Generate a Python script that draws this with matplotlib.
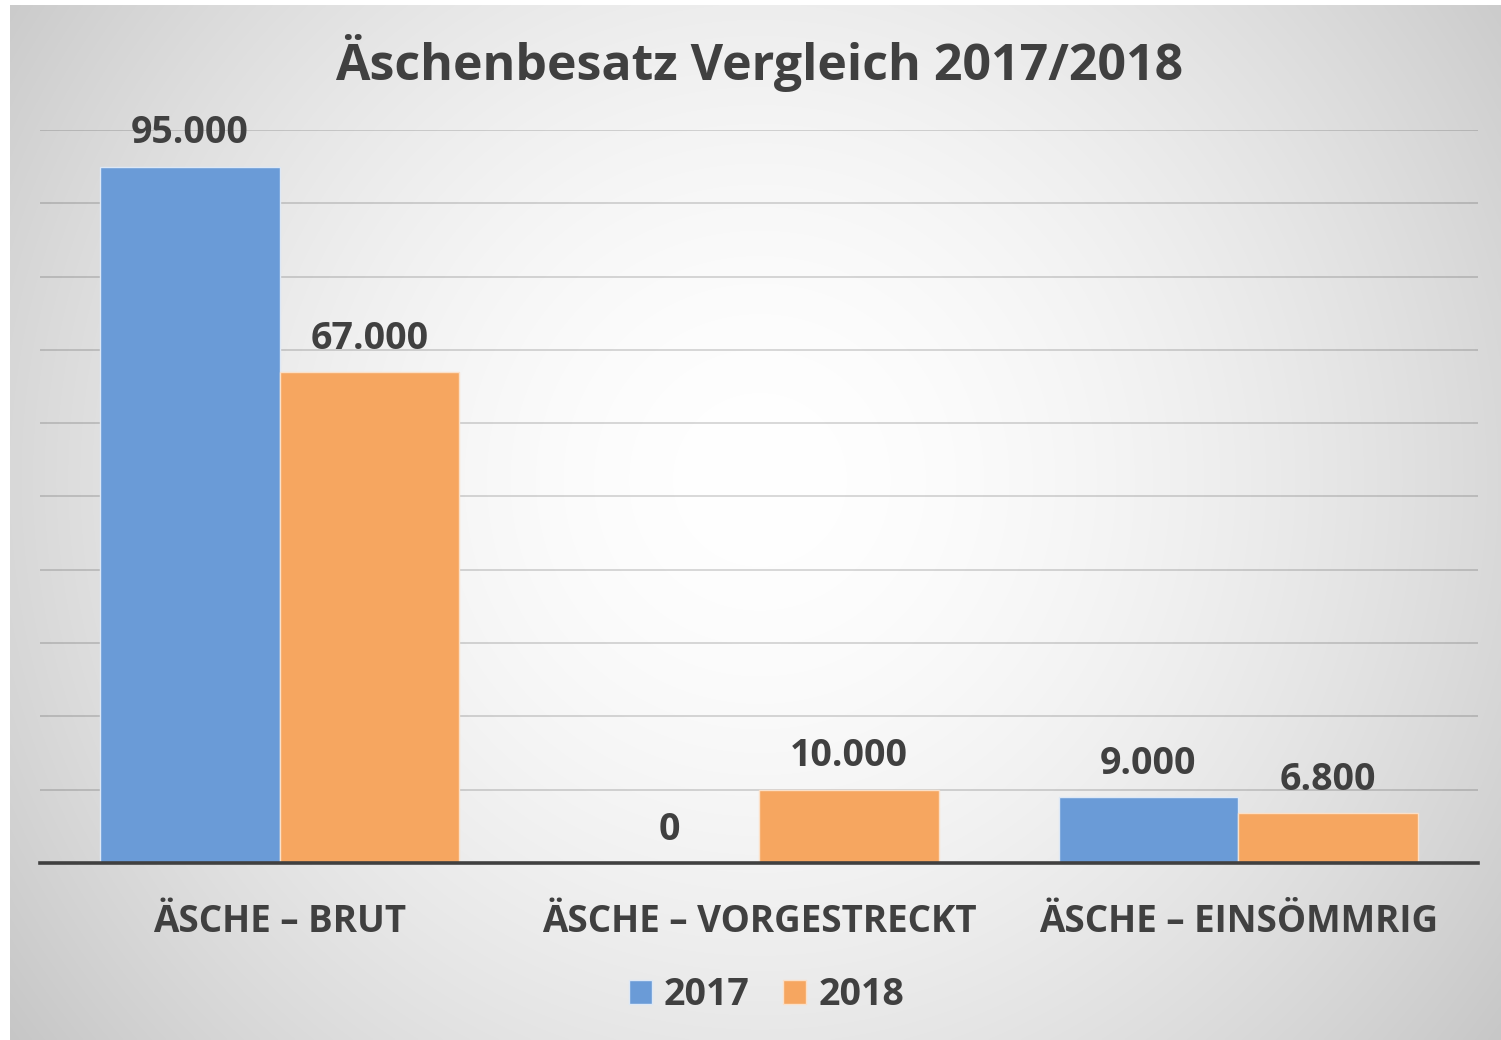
import numpy as np
import matplotlib
matplotlib.use("Agg")
import matplotlib.pyplot as plt

plt.rcParams['font.family'] = ['Open Sans', 'DejaVu Sans']

title = "Äschenbesatz Vergleich 2017/2018"
categories = ["ÄSCHE – BRUT", "ÄSCHE – VORGESTRECKT", "ÄSCHE – EINSÖMMRIG"]
series_names = ["2017", "2018"]
values_2017 = [95000, 0, 9000]
values_2018 = [67000, 10000, 6800]
labels_2017 = ["95.000", "0", "9.000"]
labels_2018 = ["67.000", "10.000", "6.800"]

W, H = 1501, 1040
fig = plt.figure(figsize=(W / 100, H / 100), dpi=100)
fig.patch.set_facecolor("white")

# radial gradient background (pixel based)
x0, y0 = 10, 5
bg = fig.add_axes([x0 / W, 0, 1 - x0 / W, 1 - y0 / H])
bg.set_axis_off()
ny, nx = (H - y0) // 2, (W - x0) // 2
py = y0 + (np.arange(ny) + 0.5) * (H - y0) / ny
px = x0 + (np.arange(nx) + 0.5) * (W - x0) / nx
PX, PY = np.meshgrid(px, py)
d = np.sqrt((PX - 760) ** 2 + (PY - 480) ** 2) / 936.0
g = 1 - 0.223 * np.clip(d, 0, 1.2) ** 1.7
bg.imshow(np.dstack([g, g, g]), extent=[0, 1, 0, 1], aspect='auto', interpolation='bilinear')
bg.set_xlim(0, 1); bg.set_ylim(0, 1)

ax = fig.add_axes([40 / W, 1 - 863 / H, (1478 - 40) / W, (863 - 130) / H])
ax.patch.set_alpha(0)
x = np.arange(len(categories))
bw = 0.375
c17, c18 = "#6A9BD7", "#F6A660"
b1 = ax.bar(x - bw / 2, values_2017, bw, color=c17, edgecolor="#dde8f6", linewidth=1.0, label=series_names[0], zorder=3)
b2 = ax.bar(x + bw / 2, values_2018, bw, color=c18, edgecolor="#fbe0c8", linewidth=1.0, label=series_names[1], zorder=3)
ax.set_xlim(-0.5, 2.5)
ax.set_ylim(0, 100000)
ax.set_yticks(np.arange(0, 100001, 10000))
ax.grid(axis='y', color='black', alpha=0.16, linewidth=1.3, zorder=0)
ax.set_axisbelow(True)
for s in ['top', 'right', 'left']:
    ax.spines[s].set_visible(False)
ax.spines['bottom'].set_color("#404040")
ax.spines['bottom'].set_linewidth(2.6)
ax.spines['bottom'].set_zorder(5)
ax.tick_params(axis='both', length=0)
ax.set_yticklabels([])
ax.set_xticks(x)
ax.set_xticklabels(categories, fontsize=26.5, fontweight='bold', color="#404040")
ax.tick_params(axis='x', pad=29)

tc = "#404040"
for bars, labs in ((b1, labels_2017), (b2, labels_2018)):
    for rect, lab in zip(bars, labs):
        ax.annotate(lab, (rect.get_x() + rect.get_width() / 2, rect.get_height()),
                    xytext=(0, 24), textcoords='offset points', ha='center', va='center',
                    fontsize=27, fontweight='bold', color=tc, zorder=6)

fig.text(759 / W, 1 - 63 / H, title, ha='center', va='center', fontsize=36,
         fontweight='bold', color=tc)

leg = fig.legend(handles=[b1, b2], labels=series_names, loc='center',
                 bbox_to_anchor=(766.5 / W, 1 - 995 / H), ncol=2, frameon=False,
                 prop={'size': 27, 'weight': 'bold'}, handlelength=0.61, handleheight=0.61,
                 handletextpad=0.32, columnspacing=0.9, borderpad=0, borderaxespad=0)
for t in leg.get_texts():
    t.set_color(tc)

fig.savefig("out.png", dpi=100, facecolor=fig.get_facecolor())
